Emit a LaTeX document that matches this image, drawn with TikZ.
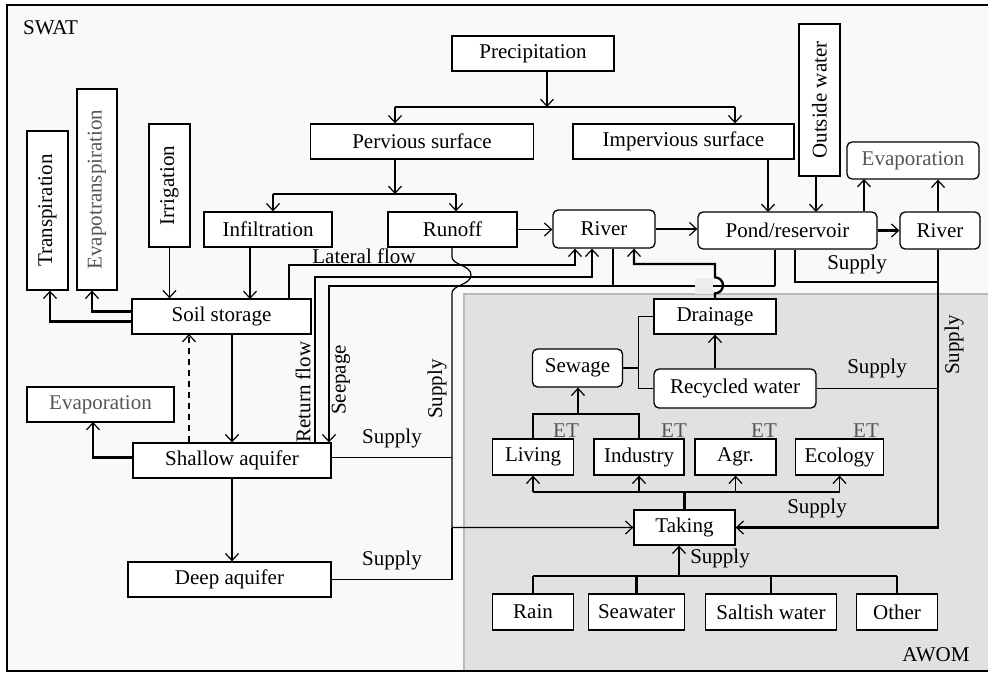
\documentclass[tikz,border=0pt]{standalone}
\usepackage{fontspec}
\setmainfont{Liberation Serif}
\usetikzlibrary{arrows.meta}
\definecolor{swatbg}{RGB}{248,249,249}
\definecolor{awombg}{RGB}{225,225,225}
\definecolor{softtext}{RGB}{85,85,85}

\begin{document}
\begin{tikzpicture}[x=1pt, y=-1pt,
    font=\fontsize{21}{25}\selectfont,
    box/.style={draw, line width=1.3pt, fill=white, inner sep=2pt},
    rbox/.style={box, rounded corners=5pt},
    fl/.style={line width=1.2pt},
    fb/.style={line width=2.3pt},
    arr/.style={-{Straight Barb[length=7pt,width=13pt,line width=1.2pt]}},
    lbl/.style={inner sep=0pt},
    dimtext/.style={text=softtext}]

    % frame and AWOM part
    \useasboundingbox (0,0) rectangle (988,673);
    \fill[swatbg] (7,5) rectangle (995,671);
    \draw[draw=gray!55, fill=awombg, line width=1.2pt] (464,294) rectangle (995,671);
    \draw[line width=1.5pt] (7,5) rectangle (995,671);
    \node[lbl, anchor=west] (swat) at (23,28) {SWAT};
    \node[lbl] (awom) at (936,655) {AWOM};

    % SWAT boxes
    \node[box, minimum width=162pt, minimum height=35pt] (precip) at (533,53.5) {Precipitation};
    \node[box, minimum width=223pt, minimum height=35pt] (pervious) at (422,141.5) {Pervious surface};
    \node[box, minimum width=221pt, minimum height=35pt] (impervious) at (683.5,141.5) {Impervious surface};
    \node[box, minimum width=41pt, minimum height=152pt, label={[rotate=90]center:Outside water}] (outside) at (819.5,100) {};
    \node[rbox, dimtext, minimum width=132pt, minimum height=37pt] (evapR) at (913,160.5) {Evaporation};
    \node[rbox, minimum width=179pt, minimum height=37pt] (pond) at (787.5,230.5) {Pond/reservoir};
    \node[rbox, minimum width=80pt, minimum height=37pt] (riverR) at (940,230.5) {River};
    \node[rbox, minimum width=102pt, minimum height=38pt] (river) at (604,229) {River};
    \node[box, minimum width=129pt, minimum height=35pt] (runoff) at (452.5,229.5) {Runoff};
    \node[box, minimum width=128pt, minimum height=35pt] (infil) at (268,229.5) {Infiltration};
    \node[box, minimum width=41pt, minimum height=123pt, label={[rotate=90]center:Irrigation}] (irrig) at (169.5,185.5) {};
    \node[box, minimum width=40pt, minimum height=201pt, label={[rotate=90,dimtext]center:Evapotranspiration}] (evapot) at (97,189.5) {};
    \node[box, minimum width=41pt, minimum height=159pt, label={[rotate=90]center:Transpiration}] (transp) at (47.5,210.5) {};
    \node[box, minimum width=179pt, minimum height=35pt] (soil) at (221.5,316.5) {Soil storage};
    \node[box, dimtext, minimum width=147pt, minimum height=35pt] (evapL) at (100.5,404.5) {Evaporation};
    \node[box, minimum width=198pt, minimum height=35pt] (shallow) at (232,460.5) {Shallow aquifer};
    \node[box, minimum width=203pt, minimum height=35pt] (deep) at (229.5,579.5) {Deep aquifer};

    % AWOM boxes
    \node[box, minimum width=122pt, minimum height=35pt] (drain) at (715,316.5) {Drainage};
    \node[rbox, minimum width=90pt, minimum height=38pt] (sewage) at (577.5,368) {Sewage};
    \node[rbox, minimum width=162pt, minimum height=39pt] (recyc) at (735,388.5) {Recycled water};
    \node[box, minimum width=81pt, minimum height=36pt] (living) at (533,457) {Living};
    \node[box, minimum width=90pt, minimum height=36pt] (industry) at (639,457) {Industry};
    \node[box, minimum width=81pt, minimum height=36pt] (agr) at (735.5,457) {Agr.};
    \node[box, minimum width=88pt, minimum height=36pt] (ecology) at (839.5,457) {Ecology};
    \node[box, minimum width=101pt, minimum height=35pt] (taking) at (684.5,527.5) {Taking};
    \node[box, minimum width=81pt, minimum height=36pt] (rain) at (533,612) {Rain};
    \node[box, minimum width=96pt, minimum height=36pt] (seawater) at (636.5,612) {Seawater};
    \node[box, minimum width=131pt, minimum height=36pt] (saltish) at (771,612) {Saltish water};
    \node[box, minimum width=81pt, minimum height=36pt] (other) at (897,612) {Other};
    \foreach \n/\x in {living/566, industry/674, agr/764, ecology/866}
        \node[lbl, dimtext] (et-\n) at (\x,431) {ET};

    % bend points
    \coordinate (pj) at (547,107);
    \coordinate (pjl) at (395,107);
    \coordinate (pjr) at (735,107);
    \coordinate (vj) at (395,194);
    \coordinate (vjl) at (273,194);
    \coordinate (vjr) at (456,194);
    \coordinate (ip) at (768,212);
    \coordinate (op) at (816,212);
    \coordinate (ep) at (864,179);
    \coordinate (is) at (250,299);
    \coordinate (lf) at (289,265);
    \coordinate (lfr) at (575,265);
    \coordinate (rf) at (315,277);
    \coordinate (rfr) at (592,277);
    \coordinate (sp) at (775,286);
    \coordinate (spl) at (329,286);
    \coordinate (rs) at (613,286);
    \coordinate (dr) at (715,264);
    \coordinate (drl) at (634,264);
    \coordinate (su) at (795,282);
    \coordinate (sur) at (938,282);
    \coordinate (ro) at (452,257);
    \coordinate (ds) at (189,334);
    \coordinate (ev) at (93,422);
    \coordinate (tj) at (684.5,492);
    \coordinate (sj) at (679,576);
    \coordinate (lw) at (578,414);
    \coordinate (sw) at (638.5,368);

    % surface flows
    \draw[fl,arr] (precip.south -| pj) -- (pj);
    \draw[fb] (pjl) -- (pjr);
    \draw[fb,arr] (pjl) -- (pjl |- pervious.north);
    \draw[fb,arr] (pjr) -- (pjr |- impervious.north);
    \draw[fb,arr] (pervious.south -| vj) -- (vj);
    \draw[fb] (vjl) -- (vjr);
    \draw[fb,arr] (vjl) -- (vjl |- infil.north);
    \draw[fb,arr] (vjr) -- (vjr |- runoff.north);
    \draw[fl,arr] (runoff.east) -- (runoff.east -| river.west);
    \draw[fb,arr] (river.east) -- (river.east -| pond.west);
    \draw[fb,arr] (impervious.south -| ip) -- (ip);
    \draw[fb,arr] (outside.south -| op) -- (op);
    \draw[fl,arr] (pond.north -| ep) -- (ep);
    \draw[fb,arr] (pond.east) -- (pond.east -| riverR.west);
    \draw[fl,arr] (riverR.north -| sur) -- (sur |- evapR.south);

    % soil and groundwater
    \draw[fl,arr] (irrig.south) -- (irrig.south |- soil.north);
    \draw[fl,arr] (infil.south -| is) -- (is);
    \draw[fb,arr] ([yshift=5pt]soil.west) -| ([xshift=-5pt]evapot.south);
    \draw[fb,arr] ([yshift=-5pt]soil.west) -| ([xshift=2.5pt]transp.south);
    \draw[fb,arr] (soil.north -| lf) -- (lf) -- (lfr) -- (lfr |- river.south);
    \node[lbl] (latlbl) at (364,256) {Lateral flow};
    \draw[fb,arr] (shallow.north -| rf) -- (rf) -- (rfr) -- (rfr |- river.south);
    \node[lbl, rotate=90] (retlbl) at (303,392) {Return flow};
    \draw[fl] (pond.south -| sp) -- (sp);
    \draw[fb,arr] (sp) -- (spl) -- (spl |- shallow.north);
    \draw[fb] (river.south -| rs) -- (rs);
    \node[lbl, rotate=90] (seeplbl) at (341,380) {Seepage};
    \draw[fb,arr] (soil.south -| shallow.north) -- (shallow.north);
    \draw[fl,arr,dash pattern=on 6pt off 5pt] (shallow.north -| ds) -- (ds);
    \draw[fl,arr] (shallow.south) -- (shallow.south |- deep.north);
    \draw[fb,arr] ([yshift=3pt]shallow.west) -| (ev);

    % drainage back to the river
    \fill[gray!15] (695,278) rectangle (713,294);
    \draw[fb,arr] (drain.north -| dr) -- ++(0,-5) arc[start angle=90, end angle=-90, radius=8]
        -- (dr) -- (drl) -- (drl |- river.south);

    % supply lines
    \draw[fb] (pond.south -| su) -- (su) -- (sur);
    \draw[fl] (riverR.south -| sur) -- (sur);
    \draw[fb,arr] (sur) |- (taking.east);
    \node[lbl] (sup1) at (857,264) {Supply};
    \node[lbl, rotate=90] (sup2) at (954,345) {Supply};
    \draw[fl] (recyc.east) -- (recyc.east -| sur);
    \node[lbl] (sup3) at (877,368) {Supply};
    \draw[fl,arr] (runoff.south -| ro) -- (ro)
        .. controls +(0,8) and +(0,-10) .. ++(19,18)
        .. controls +(0,10) and +(0,-8) .. ++(-19,18) |- (taking.west);
    \draw[fl] ([yshift=3pt]shallow.east) -- ([yshift=3pt]shallow.east -| ro);
    \draw[fl] (deep.east) -- (deep.east -| ro);
    \draw[fb] (deep.east -| ro) -- (ro |- taking.west);
    \node[lbl] (sup4) at (392,438) {Supply};
    \node[lbl] (sup5) at (392,560) {Supply};
    \node[lbl, rotate=90] (sup6) at (437,389) {Supply};

    % water use
    \draw[fb] (taking.north) -- (tj);
    \draw[fl] (tj -| living.south) -- (tj -| ecology.south);
    \foreach \n in {living, industry, agr, ecology}
        \draw[fl,arr] (tj -| \n.south) -- (\n.south);
    \node[lbl] (sup7) at (817,508) {Supply};
    \draw[fb] (sj -| rain.north) -- (sj -| other.north);
    \foreach \n in {rain, seawater, saltish, other}
        \draw[fb] (sj -| \n.north) -- (\n.north);
    \draw[fl,arr] (sj) -- (sj |- taking.south);
    \node[lbl] (sup8) at (720,558) {Supply};
    \draw[fl] (living.north) |- (lw) -| (industry.north);
    \draw[fb,arr] (lw) -- (lw |- sewage.south);
    \draw[fl] (sewage.east) -- (sw);
    \draw[fl] (drain.west) -| (sw) |- (recyc.west);
    \draw[fl,arr] (recyc.north -| drain.south) -- (drain.south);

\end{tikzpicture}
\end{document}
